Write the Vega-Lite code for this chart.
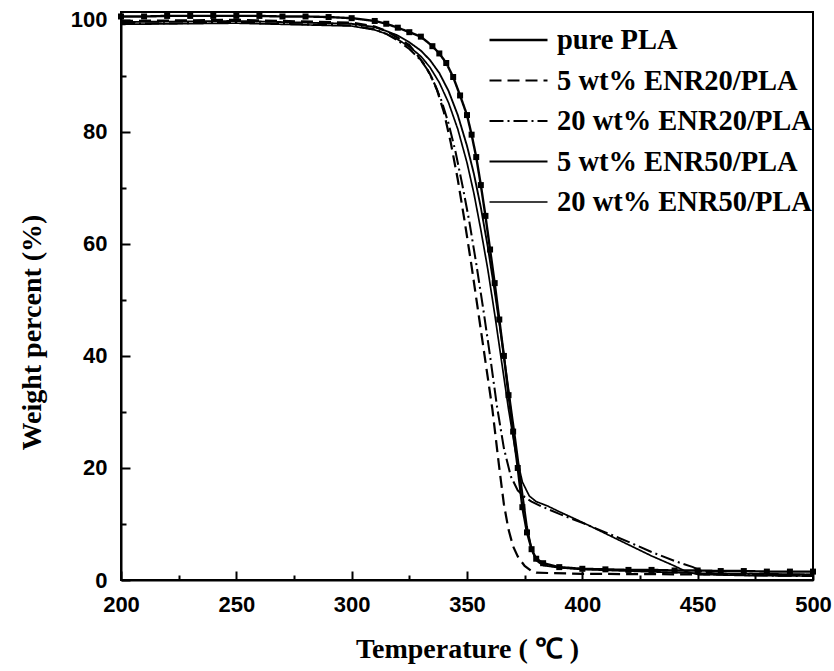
{
  "$schema": "https://vega.github.io/schema/vega-lite/v6.json",
  "width": 692,
  "height": 568,
  "autosize": "none",
  "padding": {"left": 121, "top": 12, "right": 21, "bottom": 91},
  "background": "white",
  "config": {
    "view": {"stroke": "black", "strokeWidth": 2},
    "axis": {
      "domainColor": "black",
      "domainWidth": 2,
      "tickColor": "black",
      "tickWidth": 2,
      "grid": false,
      "labelFont": "Liberation Sans",
      "labelFontWeight": "bold",
      "labelFontSize": 22,
      "labelColor": "black",
      "titleFont": "Liberation Serif",
      "titleFontWeight": "bold",
      "titleFontSize": 28,
      "titleColor": "black"
    }
  },
  "data": {
    "values": [
      {"s": "pure PLA", "t": 200, "w": 100.6}, {"s": "pure PLA", "t": 210, "w": 100.6}, {"s": "pure PLA", "t": 220, "w": 100.7}, {"s": "pure PLA", "t": 230, "w": 100.7}, {"s": "pure PLA", "t": 240, "w": 100.7}, {"s": "pure PLA", "t": 250, "w": 100.7}, {"s": "pure PLA", "t": 260, "w": 100.7}, {"s": "pure PLA", "t": 270, "w": 100.6}, {"s": "pure PLA", "t": 280, "w": 100.6}, {"s": "pure PLA", "t": 290, "w": 100.5}, {"s": "pure PLA", "t": 300, "w": 100.3}, {"s": "pure PLA", "t": 310, "w": 99.8}, {"s": "pure PLA", "t": 315, "w": 99.3}, {"s": "pure PLA", "t": 320, "w": 98.6}, {"s": "pure PLA", "t": 325, "w": 97.8}, {"s": "pure PLA", "t": 330, "w": 97.0}, {"s": "pure PLA", "t": 335, "w": 95.3}, {"s": "pure PLA", "t": 338, "w": 94.0}, {"s": "pure PLA", "t": 341, "w": 92.3}, {"s": "pure PLA", "t": 344, "w": 89.8}, {"s": "pure PLA", "t": 347, "w": 86.5}, {"s": "pure PLA", "t": 350, "w": 83.0}, {"s": "pure PLA", "t": 352, "w": 79.5}, {"s": "pure PLA", "t": 354, "w": 75.5}, {"s": "pure PLA", "t": 356, "w": 70.5}, {"s": "pure PLA", "t": 358, "w": 65.0}, {"s": "pure PLA", "t": 360, "w": 59.0}, {"s": "pure PLA", "t": 362, "w": 53.0}, {"s": "pure PLA", "t": 364, "w": 46.5}, {"s": "pure PLA", "t": 366, "w": 40.0}, {"s": "pure PLA", "t": 368, "w": 33.0}, {"s": "pure PLA", "t": 370, "w": 26.5}, {"s": "pure PLA", "t": 372, "w": 20.0}, {"s": "pure PLA", "t": 374, "w": 13.0}, {"s": "pure PLA", "t": 376, "w": 8.5}, {"s": "pure PLA", "t": 378, "w": 5.5}, {"s": "pure PLA", "t": 380, "w": 3.8}, {"s": "pure PLA", "t": 383, "w": 3.0}, {"s": "pure PLA", "t": 390, "w": 2.3}, {"s": "pure PLA", "t": 400, "w": 2.0}, {"s": "pure PLA", "t": 410, "w": 1.9}, {"s": "pure PLA", "t": 420, "w": 1.8}, {"s": "pure PLA", "t": 430, "w": 1.8}, {"s": "pure PLA", "t": 440, "w": 1.7}, {"s": "pure PLA", "t": 450, "w": 1.7}, {"s": "pure PLA", "t": 460, "w": 1.6}, {"s": "pure PLA", "t": 470, "w": 1.6}, {"s": "pure PLA", "t": 480, "w": 1.5}, {"s": "pure PLA", "t": 490, "w": 1.5}, {"s": "pure PLA", "t": 500, "w": 1.5},

      {"s": "5 wt% ENR20/PLA", "t": 200, "w": 99.8}, {"s": "5 wt% ENR20/PLA", "t": 250, "w": 100.0}, {"s": "5 wt% ENR20/PLA", "t": 300, "w": 99.5}, {"s": "5 wt% ENR20/PLA", "t": 310, "w": 98.8}, {"s": "5 wt% ENR20/PLA", "t": 315, "w": 98.0}, {"s": "5 wt% ENR20/PLA", "t": 320, "w": 96.8}, {"s": "5 wt% ENR20/PLA", "t": 325, "w": 95.5}, {"s": "5 wt% ENR20/PLA", "t": 328, "w": 94.0}, {"s": "5 wt% ENR20/PLA", "t": 331, "w": 92.3}, {"s": "5 wt% ENR20/PLA", "t": 334, "w": 90.3}, {"s": "5 wt% ENR20/PLA", "t": 337, "w": 87.5}, {"s": "5 wt% ENR20/PLA", "t": 340, "w": 83.5}, {"s": "5 wt% ENR20/PLA", "t": 343, "w": 78.0}, {"s": "5 wt% ENR20/PLA", "t": 346, "w": 71.5}, {"s": "5 wt% ENR20/PLA", "t": 349, "w": 64.0}, {"s": "5 wt% ENR20/PLA", "t": 352, "w": 56.0}, {"s": "5 wt% ENR20/PLA", "t": 355, "w": 47.5}, {"s": "5 wt% ENR20/PLA", "t": 358, "w": 39.0}, {"s": "5 wt% ENR20/PLA", "t": 361, "w": 30.5}, {"s": "5 wt% ENR20/PLA", "t": 364, "w": 20.0}, {"s": "5 wt% ENR20/PLA", "t": 366, "w": 13.5}, {"s": "5 wt% ENR20/PLA", "t": 368, "w": 9.0}, {"s": "5 wt% ENR20/PLA", "t": 370, "w": 6.0}, {"s": "5 wt% ENR20/PLA", "t": 372, "w": 4.2}, {"s": "5 wt% ENR20/PLA", "t": 375, "w": 2.5}, {"s": "5 wt% ENR20/PLA", "t": 378, "w": 1.6}, {"s": "5 wt% ENR20/PLA", "t": 380, "w": 1.3}, {"s": "5 wt% ENR20/PLA", "t": 400, "w": 1.1}, {"s": "5 wt% ENR20/PLA", "t": 450, "w": 1.0}, {"s": "5 wt% ENR20/PLA", "t": 500, "w": 0.9},

      {"s": "20 wt% ENR20/PLA", "t": 200, "w": 99.3}, {"s": "20 wt% ENR20/PLA", "t": 250, "w": 99.5}, {"s": "20 wt% ENR20/PLA", "t": 300, "w": 99.0}, {"s": "20 wt% ENR20/PLA", "t": 310, "w": 98.3}, {"s": "20 wt% ENR20/PLA", "t": 315, "w": 97.5}, {"s": "20 wt% ENR20/PLA", "t": 320, "w": 96.3}, {"s": "20 wt% ENR20/PLA", "t": 325, "w": 94.8}, {"s": "20 wt% ENR20/PLA", "t": 330, "w": 92.8}, {"s": "20 wt% ENR20/PLA", "t": 333, "w": 91.0}, {"s": "20 wt% ENR20/PLA", "t": 336, "w": 88.5}, {"s": "20 wt% ENR20/PLA", "t": 339, "w": 85.5}, {"s": "20 wt% ENR20/PLA", "t": 342, "w": 81.5}, {"s": "20 wt% ENR20/PLA", "t": 345, "w": 76.5}, {"s": "20 wt% ENR20/PLA", "t": 348, "w": 70.5}, {"s": "20 wt% ENR20/PLA", "t": 351, "w": 64.0}, {"s": "20 wt% ENR20/PLA", "t": 354, "w": 56.5}, {"s": "20 wt% ENR20/PLA", "t": 357, "w": 48.5}, {"s": "20 wt% ENR20/PLA", "t": 360, "w": 40.0}, {"s": "20 wt% ENR20/PLA", "t": 363, "w": 31.0}, {"s": "20 wt% ENR20/PLA", "t": 366, "w": 23.5}, {"s": "20 wt% ENR20/PLA", "t": 369, "w": 18.5}, {"s": "20 wt% ENR20/PLA", "t": 372, "w": 16.0}, {"s": "20 wt% ENR20/PLA", "t": 375, "w": 14.8}, {"s": "20 wt% ENR20/PLA", "t": 378, "w": 14.0}, {"s": "20 wt% ENR20/PLA", "t": 382, "w": 13.2}, {"s": "20 wt% ENR20/PLA", "t": 390, "w": 11.8}, {"s": "20 wt% ENR20/PLA", "t": 400, "w": 10.2}, {"s": "20 wt% ENR20/PLA", "t": 410, "w": 8.5}, {"s": "20 wt% ENR20/PLA", "t": 420, "w": 6.8}, {"s": "20 wt% ENR20/PLA", "t": 430, "w": 5.0}, {"s": "20 wt% ENR20/PLA", "t": 440, "w": 3.4}, {"s": "20 wt% ENR20/PLA", "t": 448, "w": 2.3}, {"s": "20 wt% ENR20/PLA", "t": 452, "w": 1.5}, {"s": "20 wt% ENR20/PLA", "t": 460, "w": 1.0}, {"s": "20 wt% ENR20/PLA", "t": 480, "w": 0.8}, {"s": "20 wt% ENR20/PLA", "t": 500, "w": 0.7},

      {"s": "5 wt% ENR50/PLA", "t": 200, "w": 99.6}, {"s": "5 wt% ENR50/PLA", "t": 250, "w": 99.8}, {"s": "5 wt% ENR50/PLA", "t": 300, "w": 99.3}, {"s": "5 wt% ENR50/PLA", "t": 310, "w": 98.7}, {"s": "5 wt% ENR50/PLA", "t": 315, "w": 98.0}, {"s": "5 wt% ENR50/PLA", "t": 320, "w": 97.2}, {"s": "5 wt% ENR50/PLA", "t": 325, "w": 96.0}, {"s": "5 wt% ENR50/PLA", "t": 330, "w": 94.5}, {"s": "5 wt% ENR50/PLA", "t": 334, "w": 92.8}, {"s": "5 wt% ENR50/PLA", "t": 338, "w": 90.5}, {"s": "5 wt% ENR50/PLA", "t": 342, "w": 87.3}, {"s": "5 wt% ENR50/PLA", "t": 346, "w": 83.0}, {"s": "5 wt% ENR50/PLA", "t": 350, "w": 77.5}, {"s": "5 wt% ENR50/PLA", "t": 353, "w": 72.5}, {"s": "5 wt% ENR50/PLA", "t": 356, "w": 66.5}, {"s": "5 wt% ENR50/PLA", "t": 359, "w": 59.5}, {"s": "5 wt% ENR50/PLA", "t": 362, "w": 51.5}, {"s": "5 wt% ENR50/PLA", "t": 365, "w": 43.0}, {"s": "5 wt% ENR50/PLA", "t": 368, "w": 34.0}, {"s": "5 wt% ENR50/PLA", "t": 371, "w": 25.0}, {"s": "5 wt% ENR50/PLA", "t": 374, "w": 15.5}, {"s": "5 wt% ENR50/PLA", "t": 376, "w": 9.5}, {"s": "5 wt% ENR50/PLA", "t": 378, "w": 5.5}, {"s": "5 wt% ENR50/PLA", "t": 380, "w": 3.5}, {"s": "5 wt% ENR50/PLA", "t": 383, "w": 2.6}, {"s": "5 wt% ENR50/PLA", "t": 390, "w": 2.2}, {"s": "5 wt% ENR50/PLA", "t": 400, "w": 1.9}, {"s": "5 wt% ENR50/PLA", "t": 420, "w": 1.6}, {"s": "5 wt% ENR50/PLA", "t": 450, "w": 1.2}, {"s": "5 wt% ENR50/PLA", "t": 500, "w": 1.0},

      {"s": "20 wt% ENR50/PLA", "t": 200, "w": 99.2}, {"s": "20 wt% ENR50/PLA", "t": 250, "w": 99.4}, {"s": "20 wt% ENR50/PLA", "t": 300, "w": 98.9}, {"s": "20 wt% ENR50/PLA", "t": 310, "w": 98.2}, {"s": "20 wt% ENR50/PLA", "t": 315, "w": 97.5}, {"s": "20 wt% ENR50/PLA", "t": 320, "w": 96.5}, {"s": "20 wt% ENR50/PLA", "t": 325, "w": 95.2}, {"s": "20 wt% ENR50/PLA", "t": 330, "w": 93.5}, {"s": "20 wt% ENR50/PLA", "t": 334, "w": 91.5}, {"s": "20 wt% ENR50/PLA", "t": 338, "w": 88.8}, {"s": "20 wt% ENR50/PLA", "t": 342, "w": 85.2}, {"s": "20 wt% ENR50/PLA", "t": 346, "w": 80.5}, {"s": "20 wt% ENR50/PLA", "t": 350, "w": 74.5}, {"s": "20 wt% ENR50/PLA", "t": 353, "w": 69.0}, {"s": "20 wt% ENR50/PLA", "t": 356, "w": 62.5}, {"s": "20 wt% ENR50/PLA", "t": 359, "w": 55.5}, {"s": "20 wt% ENR50/PLA", "t": 362, "w": 47.5}, {"s": "20 wt% ENR50/PLA", "t": 365, "w": 39.0}, {"s": "20 wt% ENR50/PLA", "t": 368, "w": 30.5}, {"s": "20 wt% ENR50/PLA", "t": 371, "w": 23.0}, {"s": "20 wt% ENR50/PLA", "t": 374, "w": 17.5}, {"s": "20 wt% ENR50/PLA", "t": 377, "w": 15.0}, {"s": "20 wt% ENR50/PLA", "t": 380, "w": 14.0}, {"s": "20 wt% ENR50/PLA", "t": 385, "w": 13.2}, {"s": "20 wt% ENR50/PLA", "t": 390, "w": 12.2}, {"s": "20 wt% ENR50/PLA", "t": 400, "w": 10.3}, {"s": "20 wt% ENR50/PLA", "t": 410, "w": 8.3}, {"s": "20 wt% ENR50/PLA", "t": 420, "w": 6.3}, {"s": "20 wt% ENR50/PLA", "t": 430, "w": 4.3}, {"s": "20 wt% ENR50/PLA", "t": 440, "w": 2.5}, {"s": "20 wt% ENR50/PLA", "t": 445, "w": 1.5}, {"s": "20 wt% ENR50/PLA", "t": 450, "w": 1.0}, {"s": "20 wt% ENR50/PLA", "t": 470, "w": 0.8}, {"s": "20 wt% ENR50/PLA", "t": 500, "w": 0.7}
    ]
  },
  "encoding": {
    "x": {
      "field": "t",
      "type": "quantitative",
      "scale": {"domain": [200, 500], "nice": false, "zero": false},
      "axis": {
        "title": "Temperature ( ℃ )",
        "titlePadding": 20,
        "values": [200, 225, 250, 275, 300, 325, 350, 375, 400, 425, 450, 475, 500],
        "labelExpr": "datum.value % 50 == 0 ? datum.label : ''",
        "tickSize": {"condition": {"test": "datum.value % 50 == 0", "value": -9}, "value": -5},
        "labelPadding": 23,
        "labelFlush": false
      }
    },
    "y": {
      "field": "w",
      "type": "quantitative",
      "scale": {"domain": [0, 101.4], "nice": false},
      "axis": {
        "title": "Weight percent (%)",
        "titlePadding": 24,
        "titleY": 320,
        "values": [0, 10, 20, 30, 40, 50, 60, 70, 80, 90, 100],
        "labelExpr": "datum.value % 20 == 0 ? datum.label : ''",
        "tickSize": {"condition": {"test": "datum.value % 20 == 0", "value": -9}, "value": -5},
        "labelPadding": 23,
        "labelFlush": false
      }
    }
  },
  "layer": [
    {
      "mark": {"type": "line", "color": "black"},
      "encoding": {
        "detail": {"field": "s"},
        "strokeDash": {
          "field": "s",
          "type": "nominal",
          "scale": {
            "domain": ["pure PLA", "5 wt% ENR20/PLA", "20 wt% ENR20/PLA", "5 wt% ENR50/PLA", "20 wt% ENR50/PLA"],
            "range": [[1, 0], [12, 6], [14, 4, 2, 4], [1, 0], [1, 0]]
          },
          "legend": {
            "title": null,
            "orient": "none",
            "legendX": 367,
            "legendY": 14,
            "symbolType": "stroke",
            "symbolSize": 3364,
            "symbolStrokeColor": "black",
            "symbolStrokeWidth": 2,
            "clipHeight": 28,
            "labelFont": "Liberation Serif",
            "labelFontWeight": "bold",
            "labelFontSize": 28.5,
            "labelColor": "black",
            "labelOffset": 8,
            "labelLimit": 400,
            "rowPadding": 11.5
          }
        },
        "strokeWidth": {
          "field": "s",
          "type": "nominal",
          "scale": {
            "domain": ["pure PLA", "5 wt% ENR20/PLA", "20 wt% ENR20/PLA", "5 wt% ENR50/PLA", "20 wt% ENR50/PLA"],
            "range": [2.4, 1.7, 1.7, 1.3, 1.3]
          },
          "legend": null
        }
      }
    },
    {
      "transform": [{"filter": "datum.s == 'pure PLA'"}],
      "mark": {"type": "point", "shape": "square", "filled": true, "color": "black", "size": 36, "opacity": 1},
      "encoding": {}
    }
  ]
}
